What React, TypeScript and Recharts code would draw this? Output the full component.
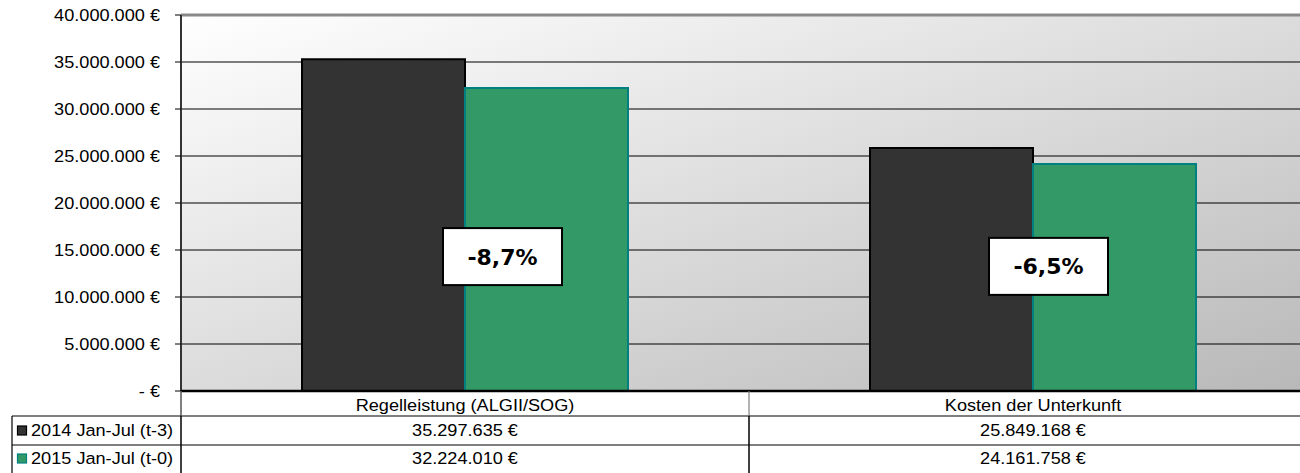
import React from 'react';
import { BarChart, Bar, XAxis, YAxis, CartesianGrid, ReferenceLine, LabelList } from 'recharts';

const categories = ['Regelleistung (ALGII/SOG)', 'Kosten der Unterkunft'];
const seriesNames = ['2014 Jan-Jul (t-3)', '2015 Jan-Jul (t-0)'];
const series2014 = [35297635, 25849168];
const series2015 = [32224010, 24161758];
const yTicks = [0, 5000000, 10000000, 15000000, 20000000, 25000000, 30000000, 35000000, 40000000];

const data = categories.map((name, i) => ({ name, a: series2014[i], b: series2015[i] }));

const FONT = '"Liberation Sans", Arial, sans-serif';
const SX = 1.1;

const fmtEuro = (v: number) =>
  v === 0 ? '- €' : String(Math.round(v)).replace(/\B(?=(\d{3})+(?!\d))/g, '.') + ' €';

const fmtPct = (v: number) => (v * 100).toFixed(1).replace('.', ',') + '%';

const STxt = ({ x, y, anchor, children }: any) => (
  <g transform={`translate(${x},${y}) scale(${SX},1)`}>
    <text x={0} y={0} dy="0.35em" textAnchor={anchor} fontFamily={FONT} fontSize={16.5} fill="#000">
      {children}
    </text>
  </g>
);

const YTick = (props: any) => {
  const { x, y, payload } = props;
  return <STxt x={x} y={y} anchor="end">{fmtEuro(payload.value)}</STxt>;
};

const seriesFill = ['#333333', '#339966'];
const seriesStroke = ['#000000', '#008080'];
const seriesVals = [series2014, series2015];

const XTick = (props: any) => {
  const { x, y, index, payload } = props;
  const half = 284;
  const r1 = y + 25;
  const r2 = y + 54;
  const bottom = y + 82;
  return (
    <g>
      <STxt x={x} y={y + 14} anchor="middle">{payload.value}</STxt>
      {seriesVals.map((vals, si) => (
        <STxt key={si} x={x} y={y + 39 + si * 28} anchor="middle">{fmtEuro(vals[index])}</STxt>
      ))}
      <line x1={x - half} x2={x + half} y1={r1} y2={r1} stroke="#000" strokeWidth={1.2} />
      <line x1={x - half} x2={x + half} y1={r2} y2={r2} stroke="#000" strokeWidth={1.2} />
      <line x1={x + half} x2={x + half} y1={y} y2={r1} stroke="#808080" strokeWidth={1.2} />
      <line x1={x + half} x2={x + half} y1={r1} y2={bottom} stroke="#000" strokeWidth={1.5} />
      {index === 0 && (
        <g>
          <line x1={x - half} x2={x - half} y1={y} y2={r1} stroke="#555" strokeWidth={1.5} />
          <line x1={x - half} x2={x - half} y1={r1} y2={bottom} stroke="#000" strokeWidth={1.5} />
          <line x1={12} x2={x - half} y1={r1} y2={r1} stroke="#000" strokeWidth={1.2} />
          <line x1={12} x2={x - half} y1={r2} y2={r2} stroke="#000" strokeWidth={1.2} />
          <line x1={12} x2={12} y1={r1} y2={bottom} stroke="#000" strokeWidth={1.2} />
          {seriesNames.map((n, si) => (
            <g key={si}>
              <rect x={17.5} y={y + 35 + si * 28} width={9} height={9} fill={seriesFill[si]} stroke={seriesStroke[si]} strokeWidth={1.2} />
              <STxt x={31} y={y + 39 + si * 28} anchor="start">{n}</STxt>
            </g>
          ))}
        </g>
      )}
    </g>
  );
};

const boxOffsets = [
  { dx: -22, dy: 140 },
  { dx: -44, dy: 74 },
];

const ChangeLabel = (props: any) => {
  const { x, y, index } = props;
  const off = boxOffsets[index] || { dx: 0, dy: 0 };
  const change = series2015[index] / series2014[index] - 1;
  const bx = Number(x) + off.dx;
  const by = Number(y) + off.dy;
  const w = 119;
  const h = 57;
  return (
    <g>
      <rect x={bx} y={by} width={w} height={h} fill="#fff" stroke="#000" strokeWidth={2} />
      <text x={bx + w / 2} y={by + h / 2} dy="0.36em" textAnchor="middle" fontFamily='"DejaVu Sans", Verdana, sans-serif' fontWeight="bold" fontSize={22} fill="#000">
        {fmtPct(change)}
      </text>
    </g>
  );
};

export default function App() {
  return (
    <div style={{ position: 'fixed', left: 0, top: 0, width: 1300, height: 473, overflow: 'hidden', background: '#fff' }}>
      <svg width={0} height={0} style={{ position: 'absolute' }}>
        <defs>
          <linearGradient id="plotBg" x1="0" y1="0" x2="1" y2="1">
            <stop offset="0%" stopColor="#ffffff" />
            <stop offset="100%" stopColor="#b8b8b8" />
          </linearGradient>
        </defs>
      </svg>
      <BarChart
        width={1317}
        height={473}
        data={data}
        margin={{ top: 15, right: 0, bottom: 0, left: 0 }}
        barGap={0}
      >
        <CartesianGrid vertical={false} stroke="#000" strokeWidth={1.2} fill="url(#plotBg)" fillOpacity={1} />
        <YAxis
          width={181}
          domain={[0, 40000000]}
          ticks={yTicks}
          interval={0}
          tickSize={6}
          tickMargin={15}
          tick={<YTick />}
          axisLine={{ stroke: '#333', strokeWidth: 2 }}
          tickLine={{ stroke: '#000' }}
        />
        <XAxis
          dataKey="name"
          height={82}
          interval={0}
          tickSize={0}
          tickMargin={0}
          tickLine={false}
          axisLine={{ stroke: '#000', strokeWidth: 2.5 }}
          tick={<XTick />}
        />
        <ReferenceLine y={40000000} stroke="#888" strokeWidth={3} />
        <Bar dataKey="a" fill={seriesFill[0]} stroke={seriesStroke[0]} strokeWidth={2} barSize={163} isAnimationActive={false} />
        <Bar dataKey="b" fill={seriesFill[1]} stroke={seriesStroke[1]} strokeWidth={2} barSize={163} isAnimationActive={false}>
          <LabelList dataKey="b" content={<ChangeLabel />} />
        </Bar>
      </BarChart>
    </div>
  );
}
